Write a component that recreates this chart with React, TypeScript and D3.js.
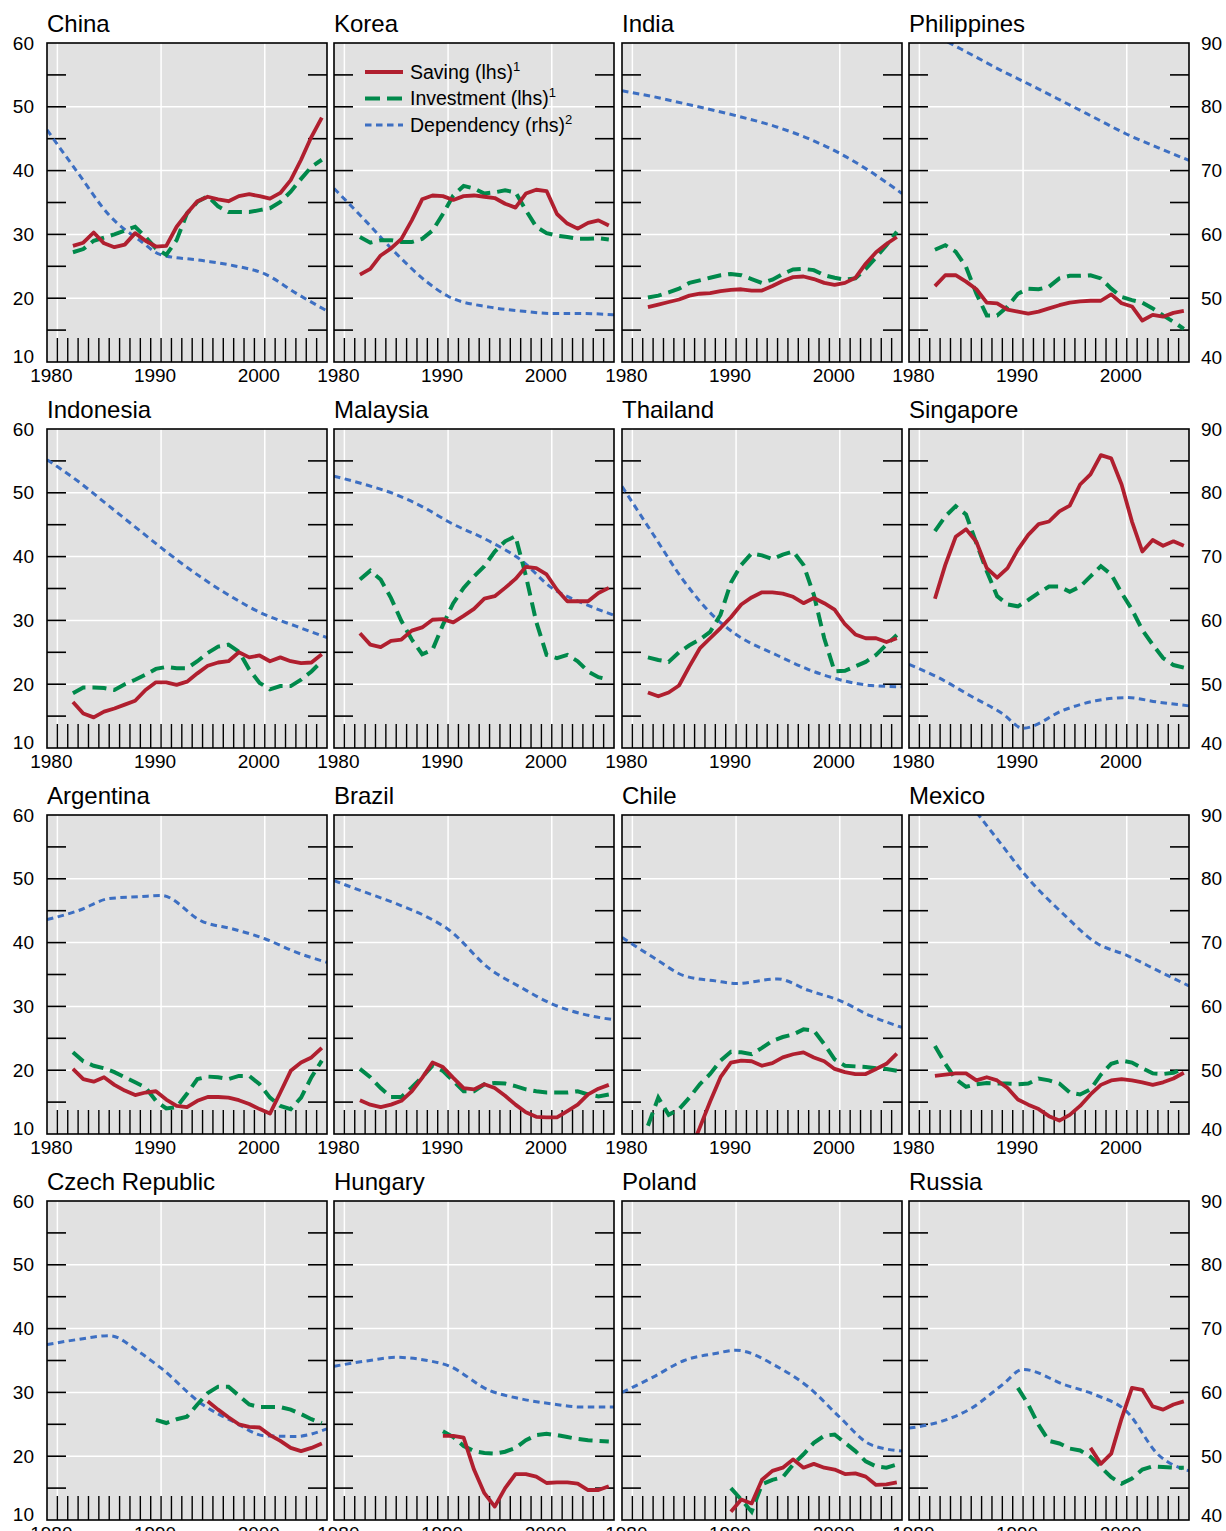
import React from "react";
import * as d3 from "d3";

// flow series are annual, 1981-2005 unless a later start is given
const years = [1981, 1982, 1983, 1984, 1985, 1986, 1987, 1988, 1989, 1990, 1991, 1992, 1993,
  1994, 1995, 1996, 1997, 1998, 1999, 2000, 2001, 2002, 2003, 2004, 2005];
// dependency ratio read at these years
const depYears = [1979, 1982, 1985, 1988, 1990, 1994, 1997, 2000, 2003, 2006];

const yearTicks = [1980, 1981, 1982, 1983, 1984, 1985, 1986, 1987, 1988, 1989, 1990, 1991, 1992,
  1993, 1994, 1995, 1996, 1997, 1998, 1999, 2000, 2001, 2002, 2003, 2004, 2005];
const yearLabels = [1980, 1990, 2000];
const lhsLabels = [10, 20, 30, 40, 50, 60];
const rhsLabels = [40, 50, 60, 70, 80, 90];
const sideTicks = [15, 20, 25, 30, 35, 40, 45, 50, 55];
const gridValues = [20, 30, 40, 50];
const gridYears = [1980, 1990, 2000];

const chinaSaving = [28.2, 28.7, 30.3, 28.6, 28.0, 28.4, 30.2, 29.0, 28.1, 28.2, 31.2, 33.3, 35.2, 35.9, 35.5, 35.2, 36.0, 36.3, 36.0, 35.6, 36.5, 38.5, 41.7, 45.3, 48.3];
const chinaInvest = [27.2, 27.7, 29.0, 29.5, 30.0, 30.6, 31.2, 29.6, 27.8, 26.8, 29.1, 33.3, 35.1, 36.0, 34.4, 33.5, 33.5, 33.5, 33.8, 34.1, 35.1, 36.7, 38.7, 40.6, 41.7];
const chinaDep = [76.4, 69.6, 63.0, 59.0, 56.8, 55.9, 55.1, 53.8, 50.8, 48.0];

const koreaSaving = [23.7, 24.6, 26.7, 27.8, 29.3, 32.2, 35.5, 36.1, 36.0, 35.4, 36.0, 36.1, 35.9, 35.7, 34.8, 34.2, 36.4, 37.0, 36.8, 33.2, 31.7, 30.9, 31.8, 32.2, 31.4];
const koreaInvest = [29.6, 28.7, 29.1, 29.1, 28.8, 28.8, 29.3, 30.6, 33.2, 36.1, 37.6, 37.2, 36.4, 36.6, 36.9, 36.6, 33.8, 31.2, 30.2, 29.8, 29.6, 29.3, 29.3, 29.4, 29.2];
const koreaDep = [67.2, 62.2, 57.0, 52.5, 50.3, 48.6, 48.0, 47.6, 47.6, 47.4];

const indiaSaving = [18.6, 19.0, 19.4, 19.8, 20.4, 20.7, 20.8, 21.1, 21.3, 21.4, 21.2, 21.2, 21.9, 22.7, 23.3, 23.4, 23.0, 22.4, 22.1, 22.4, 23.2, 25.4, 27.2, 28.5, 29.6];
const indiaInvest = [20.1, 20.4, 20.9, 21.5, 22.4, 22.8, 23.2, 23.6, 23.8, 23.6, 23.0, 22.4, 22.9, 23.8, 24.5, 24.6, 24.4, 23.6, 23.2, 22.9, 23.1, 24.6, 26.4, 28.3, 30.4];
const indiaDep = [82.5, 81.6, 80.5, 79.4, 78.6, 76.8, 75.0, 72.7, 69.8, 66.4];

const philSaving = [21.9, 23.6, 23.6, 22.6, 21.4, 19.3, 19.2, 18.2, 17.9, 17.6, 17.9, 18.4, 18.9, 19.3, 19.5, 19.6, 19.6, 20.6, 19.2, 18.7, 16.5, 17.4, 17.1, 17.7, 18.0];
const philInvest = [27.6, 28.3, 27.3, 24.9, 20.7, 17.3, 17.3, 18.7, 20.7, 21.5, 21.4, 21.8, 23.1, 23.5, 23.5, 23.6, 23.1, 21.5, 20.2, 19.7, 19.3, 18.4, 17.3, 16.3, 15.2];
const philDep = [93.5, 90.8, 88.2, 85.6, 84.0, 80.7, 78.2, 75.7, 73.6, 71.6];

const indonesiaSaving = [17.2, 15.4, 14.8, 15.7, 16.2, 16.8, 17.4, 19.1, 20.3, 20.3, 19.9, 20.4, 21.7, 22.9, 23.4, 23.6, 25.0, 24.2, 24.5, 23.6, 24.2, 23.6, 23.3, 23.4, 24.7];
const indonesiaInvest = [18.6, 19.5, 19.5, 19.4, 19.1, 20.0, 20.7, 21.5, 22.4, 22.7, 22.5, 22.5, 23.6, 24.9, 25.9, 26.2, 25.1, 22.3, 20.2, 19.2, 19.7, 19.7, 20.7, 22.0, 23.6];
const indonesiaDep = [85.2, 81.8, 77.9, 74.0, 71.4, 66.6, 63.5, 60.9, 59.1, 57.3];

const malaysiaSaving = [28.0, 26.2, 25.8, 26.8, 27.0, 28.4, 28.9, 30.1, 30.2, 29.7, 30.7, 31.8, 33.4, 33.8, 35.1, 36.5, 38.4, 38.2, 37.2, 34.8, 33.0, 33.0, 33.0, 34.3, 35.1];
const malaysiaInvest = [36.4, 37.8, 36.4, 33.5, 29.9, 27.0, 24.7, 25.4, 29.3, 32.7, 35.1, 36.9, 38.5, 40.8, 42.4, 43.2, 37.0, 29.8, 24.6, 24.1, 24.6, 23.6, 22.0, 21.1, 20.7];
const malaysiaDep = [82.6, 81.3, 79.7, 77.4, 75.5, 72.4, 69.5, 65.1, 62.7, 60.8];

const thailandSaving = [18.7, 18.1, 18.7, 19.8, 22.8, 25.6, 27.2, 28.8, 30.5, 32.5, 33.6, 34.4, 34.4, 34.2, 33.7, 32.7, 33.5, 32.7, 31.7, 29.4, 27.8, 27.2, 27.2, 26.6, 27.2];
const thailandInvest = [24.2, 23.8, 23.5, 25.0, 26.1, 27.0, 28.2, 30.9, 35.9, 38.7, 40.5, 40.2, 39.6, 40.3, 40.8, 38.7, 34.0, 27.2, 22.0, 22.1, 22.8, 23.5, 24.6, 26.2, 27.7];
const thailandDep = [81.0, 73.5, 66.1, 60.4, 57.8, 54.5, 52.3, 50.7, 49.8, 49.6];

const singaporeSaving = [33.4, 38.7, 43.1, 44.3, 42.3, 38.2, 36.7, 38.2, 41.1, 43.4, 45.1, 45.5, 47.1, 48.0, 51.3, 52.9, 55.9, 55.4, 51.3, 45.5, 40.8, 42.6, 41.7, 42.4, 41.7];
const singaporeInvest = [44.0, 46.3, 47.9, 46.6, 42.1, 37.7, 33.8, 32.5, 32.2, 33.2, 34.3, 35.3, 35.3, 34.5, 35.3, 36.9, 38.5, 37.2, 34.3, 31.7, 28.5, 26.2, 24.1, 23.0, 22.6];
const singaporeDep = [53.1, 50.9, 48.1, 45.4, 43.1, 46.0, 47.4, 47.9, 47.2, 46.6];

const argentinaSaving = [20.2, 18.6, 18.2, 18.9, 17.7, 16.8, 16.1, 16.5, 16.7, 15.4, 14.4, 14.2, 15.2, 15.8, 15.8, 15.7, 15.3, 14.7, 13.9, 13.2, 16.5, 19.9, 21.2, 22.0, 23.5];
const argentinaInvest = [22.8, 21.4, 20.7, 20.3, 19.7, 18.9, 18.1, 17.3, 15.2, 14.0, 14.2, 16.3, 18.6, 19.0, 18.9, 18.6, 19.1, 19.1, 17.8, 15.7, 14.4, 13.9, 15.7, 18.9, 21.5];
const argentinaDep = [73.6, 75.0, 76.9, 77.2, 77.4, 73.3, 72.1, 70.6, 68.5, 66.9];

const brazilSaving = [15.3, 14.6, 14.2, 14.6, 15.2, 16.7, 18.8, 21.2, 20.5, 18.8, 17.2, 17.0, 17.8, 17.2, 16.0, 14.6, 13.4, 12.7, 12.6, 12.6, 13.6, 14.6, 16.2, 17.1, 17.7];
const brazilInvest = [20.2, 18.9, 17.2, 15.8, 15.8, 17.3, 18.9, 20.7, 19.9, 18.3, 16.7, 16.7, 17.8, 18.0, 17.9, 17.5, 17.0, 16.7, 16.5, 16.5, 16.5, 16.7, 16.2, 15.9, 16.2];
const brazilDep = [79.7, 77.9, 76.1, 74.0, 72.1, 65.9, 63.0, 60.4, 58.8, 57.9];

// Chile saving from 1985
const chileSaving = [7.0, 11.0, 15.1, 18.9, 21.2, 21.5, 21.4, 20.7, 21.1, 22.0, 22.5, 22.8, 22.0, 21.4, 20.2, 19.7, 19.4, 19.4, 20.2, 21.0, 22.6];
const chileInvest = [11.3, 15.7, 13.0, 13.9, 15.7, 17.8, 19.4, 21.5, 22.9, 22.8, 22.5, 23.5, 24.6, 25.2, 25.6, 26.4, 26.2, 24.1, 21.7, 20.7, 20.6, 20.5, 20.3, 20.2, 19.9];
const chileDep = [70.8, 67.7, 64.8, 64.0, 63.6, 64.3, 62.5, 60.9, 58.5, 56.7];

const mexicoSaving = [19.1, 19.3, 19.5, 19.5, 18.4, 18.9, 18.4, 17.2, 15.4, 14.6, 13.9, 12.8, 12.1, 13.0, 14.4, 16.2, 17.7, 18.4, 18.6, 18.4, 18.1, 17.7, 18.1, 18.7, 19.6];
const mexicoInvest = [23.8, 21.0, 18.6, 17.4, 17.8, 18.0, 17.9, 17.9, 17.8, 17.9, 18.7, 18.4, 17.9, 16.5, 16.2, 17.0, 19.3, 21.0, 21.5, 21.2, 20.3, 19.5, 19.4, 19.6, 20.3];
const mexicoDep = [104.0, 98.0, 91.5, 85.2, 81.0, 74.3, 70.0, 68.0, 65.6, 63.2];

// Czech saving from 1994, investment from 1989
const czechSaving = [28.6, 27.3, 26.1, 25.0, 24.6, 24.5, 23.3, 22.4, 21.3, 20.8, 21.3, 22.0];
const czechInvest = [25.7, 25.2, 25.8, 26.2, 28.1, 29.9, 30.9, 30.9, 29.5, 28.1, 27.7, 27.7, 27.7, 27.3, 26.6, 25.8, 25.2];
const czechDep = [67.5, 68.3, 68.9, 66.2, 63.8, 58.1, 55.4, 53.2, 53.1, 54.3];

// from 1989
const hungarySaving = [23.2, 23.2, 22.9, 17.9, 14.2, 12.1, 15.0, 17.2, 17.2, 16.8, 15.8, 15.9, 15.9, 15.7, 14.7, 14.7, 15.3];
const hungaryInvest = [23.9, 23.0, 21.6, 20.8, 20.5, 20.4, 20.7, 21.3, 22.5, 23.3, 23.5, 23.3, 23.0, 22.7, 22.5, 22.4, 22.3];
const hungaryDep = [64.1, 64.9, 65.5, 65.0, 64.2, 60.3, 59.0, 58.2, 57.7, 57.7];

// from 1989
const polandSaving = [11.3, 13.2, 12.6, 16.3, 17.7, 18.2, 19.5, 18.2, 18.8, 18.2, 17.9, 17.2, 17.3, 16.8, 15.5, 15.6, 15.9];
const polandInvest = [15.0, 13.2, 11.3, 15.6, 16.3, 16.7, 18.7, 20.3, 22.1, 23.2, 23.4, 22.1, 20.8, 19.2, 18.4, 18.2, 18.7];
const polandDep = [60.0, 62.4, 65.0, 66.1, 66.6, 64.0, 60.8, 56.1, 51.8, 50.8];

// Russia saving from 1996, investment from 1989
const russiaSaving = [21.3, 18.8, 20.4, 25.9, 30.7, 30.4, 27.8, 27.3, 28.1, 28.6];
const russiaInvest = [30.7, 28.1, 24.9, 22.4, 22.0, 21.2, 20.9, 19.9, 18.3, 16.7, 15.7, 16.5, 17.9, 18.4, 18.3, 18.2, 18.2];
const russiaDep = [54.4, 55.4, 57.5, 61.2, 63.6, 61.2, 59.6, 57.0, 50.3, 47.7];

const panels = [
  { name: "China", saving: chinaSaving, savingFrom: 1981, invest: chinaInvest, investFrom: 1981, dep: chinaDep },
  { name: "Korea", saving: koreaSaving, savingFrom: 1981, invest: koreaInvest, investFrom: 1981, dep: koreaDep },
  { name: "India", saving: indiaSaving, savingFrom: 1981, invest: indiaInvest, investFrom: 1981, dep: indiaDep },
  { name: "Philippines", saving: philSaving, savingFrom: 1981, invest: philInvest, investFrom: 1981, dep: philDep },
  { name: "Indonesia", saving: indonesiaSaving, savingFrom: 1981, invest: indonesiaInvest, investFrom: 1981, dep: indonesiaDep },
  { name: "Malaysia", saving: malaysiaSaving, savingFrom: 1981, invest: malaysiaInvest, investFrom: 1981, dep: malaysiaDep },
  { name: "Thailand", saving: thailandSaving, savingFrom: 1981, invest: thailandInvest, investFrom: 1981, dep: thailandDep },
  { name: "Singapore", saving: singaporeSaving, savingFrom: 1981, invest: singaporeInvest, investFrom: 1981, dep: singaporeDep },
  { name: "Argentina", saving: argentinaSaving, savingFrom: 1981, invest: argentinaInvest, investFrom: 1981, dep: argentinaDep },
  { name: "Brazil", saving: brazilSaving, savingFrom: 1981, invest: brazilInvest, investFrom: 1981, dep: brazilDep },
  { name: "Chile", saving: chileSaving, savingFrom: 1985, invest: chileInvest, investFrom: 1981, dep: chileDep },
  { name: "Mexico", saving: mexicoSaving, savingFrom: 1981, invest: mexicoInvest, investFrom: 1981, dep: mexicoDep },
  { name: "Czech Republic", saving: czechSaving, savingFrom: 1994, invest: czechInvest, investFrom: 1989, dep: czechDep },
  { name: "Hungary", saving: hungarySaving, savingFrom: 1989, invest: hungaryInvest, investFrom: 1989, dep: hungaryDep },
  { name: "Poland", saving: polandSaving, savingFrom: 1989, invest: polandInvest, investFrom: 1989, dep: polandDep },
  { name: "Russia", saving: russiaSaving, savingFrom: 1996, invest: russiaInvest, investFrom: 1989, dep: russiaDep },
];

const W = 1226;
const H = 1531;
const PW = 280;
const PH = 319;
const COL_X = [47, 334, 622, 909];
const ROW_Y = [43, 429, 815, 1201];

const RED = "#b01f2f";
const GREEN = "#00894b";
const BLUE = "#3d6fc2";
const BG = "#e1e1e1";
const FONT = "'Liberation Sans', Arial, Helvetica, sans-serif";

const x = d3.scaleLinear().domain([1979, 2006]).range([0, PW]);
const yL = d3.scaleLinear().domain([10, 60]).range([PH, 0]);
const yR = d3.scaleLinear().domain([40, 90]).range([PH, 0]);

type Pt = { year: number; value: number };
const toPoints = (from: number, values: number[]): Pt[] =>
  values.map((v, i) => ({ year: from + i, value: v }));

// annual flows sit in the middle of the year
const flowLine = d3.line<Pt>().x(d => x(d.year + 0.5)).y(d => yL(d.value));
const depLine = d3.line<number>()
  .x((_, i) => x(depYears[i]))
  .y(d => yR(d))
  .curve(d3.curveMonotoneX);

function Panel({ p, idx }: { p: typeof panels[number]; idx: number }) {
  const col = idx % 4;
  const row = Math.floor(idx / 4);
  const clipId = `clip-${idx}`;
  return (
    <g transform={`translate(${COL_X[col]},${ROW_Y[row]})`}>
      <defs>
        <clipPath id={clipId}>
          <rect x={0} y={0} width={PW} height={PH} />
        </clipPath>
      </defs>
      <text x={0} y={-11} fontSize={24} fill="#000">{p.name}</text>
      <rect x={0} y={0} width={PW} height={PH} fill={BG} />
      {gridValues.map(v => (
        <line key={"h" + v} x1={0} x2={PW} y1={yL(v)} y2={yL(v)} stroke="#fff" strokeWidth={1.5} />
      ))}
      {gridYears.map(yr => (
        <line key={"v" + yr} x1={x(yr)} x2={x(yr)} y1={0} y2={PH} stroke="#fff" strokeWidth={1.5} />
      ))}
      {sideTicks.map(v => (
        <g key={"t" + v}>
          <line x1={0} x2={19} y1={yL(v)} y2={yL(v)} stroke="#000" strokeWidth={1.6} />
          <line x1={PW - 19} x2={PW} y1={yL(v)} y2={yL(v)} stroke="#000" strokeWidth={1.6} />
        </g>
      ))}
      {yearTicks.map(yr => (
        <line key={"y" + yr} x1={x(yr)} x2={x(yr)} y1={PH} y2={PH - 24} stroke="#000" strokeWidth={1.4} />
      ))}
      <g clipPath={`url(#${clipId})`}>
        <path d={depLine(p.dep) || ""} fill="none" stroke={BLUE} strokeWidth={3} strokeDasharray="6.5,4.5" />
        <path d={flowLine(toPoints(p.investFrom, p.invest)) || ""} fill="none" stroke={GREEN}
          strokeWidth={4} strokeDasharray="14,7" />
        <path d={flowLine(toPoints(p.savingFrom, p.saving)) || ""} fill="none" stroke={RED}
          strokeWidth={3.8} strokeLinejoin="round" />
      </g>
      <rect x={0} y={0} width={PW} height={PH} fill="none" stroke="#000" strokeWidth={1.6} />
      {yearLabels.map(yr => (
        <text key={"l" + yr} x={x(yr) - 6} y={PH + 20} fontSize={19} textAnchor="middle">{yr}</text>
      ))}
      {col === 0 && lhsLabels.map(v => (
        <text key={"a" + v} x={-13} y={yL(v) - (v === 10 ? 6 : 0)} dy="0.35em" fontSize={19}
          textAnchor="end">{v}</text>
      ))}
      {col === 3 && rhsLabels.map(v => (
        <text key={"b" + v} x={PW + 12} y={yR(v) - (v === 40 ? 5 : 0)} dy="0.35em" fontSize={19}
          textAnchor="start">{v}</text>
      ))}
      {idx === 1 && <Legend />}
    </g>
  );
}

const legendItems = [
  { label: "Saving (lhs)", sup: "1", color: RED, dash: "none", width: 3.8 },
  { label: "Investment (lhs)", sup: "1", color: GREEN, dash: "15,7", width: 4 },
  { label: "Dependency (rhs)", sup: "2", color: BLUE, dash: "6.5,4.5", width: 3 },
];

function Legend() {
  return (
    <g>
      {legendItems.map((it, i) => {
        const ly = 29 + i * 26.5;
        return (
          <g key={it.label}>
            <line x1={31} x2={69} y1={ly} y2={ly} stroke={it.color} strokeWidth={it.width}
              strokeDasharray={it.dash} />
            <text x={76} y={ly + 6.5} fontSize={19.5}>
              {it.label}
              <tspan dy={-8} fontSize={13}>{it.sup}</tspan>
            </text>
          </g>
        );
      })}
    </g>
  );
}

export default function App() {
  return (
    <svg width={W} height={H} style={{ position: "absolute", left: 0, top: 0, background: "#fff" }}
      fontFamily={FONT}>
      {panels.map((p, i) => <Panel key={p.name} p={p} idx={i} />)}
    </svg>
  );
}
